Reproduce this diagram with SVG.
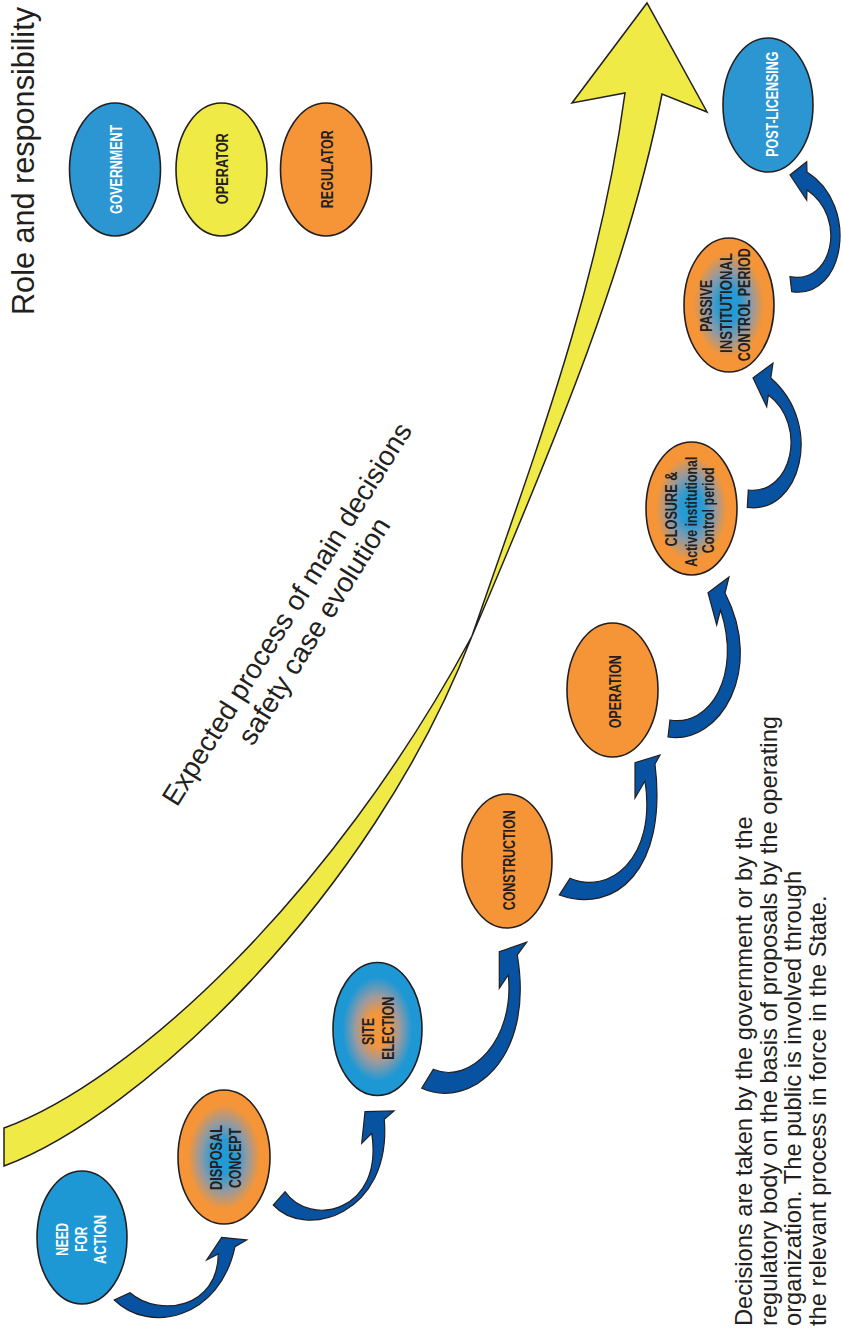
<svg xmlns="http://www.w3.org/2000/svg" width="842" height="1329" viewBox="0 0 842 1329">
<defs>
<style>
.n ellipse{stroke:#231F20;stroke-width:1.6}
.lbl{font-family:"Liberation Sans",Arial,sans-serif;font-weight:bold;font-size:16px;text-anchor:middle}
.w{fill:#FFFFFF}
.d{fill:#231F20}
.arr{fill:#0752A1;stroke:#231F20;stroke-width:1.2;stroke-linejoin:miter}
.big{font-family:"Liberation Sans",Arial,sans-serif;fill:#231F20}
</style>
<radialGradient id="gOB" cx="50%" cy="50%" r="50%">
<stop offset="0" stop-color="#1D9AD6"/>
<stop offset="0.25" stop-color="#2A9AD3"/>
<stop offset="0.5" stop-color="#8E9AA6"/>
<stop offset="0.78" stop-color="#F59538"/>
<stop offset="1" stop-color="#F59538"/>
</radialGradient>
<radialGradient id="gBO" cx="50%" cy="50%" r="50%">
<stop offset="0" stop-color="#F59538"/>
<stop offset="0.25" stop-color="#F2963D"/>
<stop offset="0.5" stop-color="#9C9AA0"/>
<stop offset="0.78" stop-color="#1E98D5"/>
<stop offset="1" stop-color="#1E98D5"/>
</radialGradient>
</defs>
<rect width="842" height="1329" fill="#FFFFFF"/>

<text class="big" font-size="31" textLength="308" lengthAdjust="spacingAndGlyphs" transform="translate(34,315) rotate(-90)">Role and responsibility</text>

<g id="yellow-arrow" fill="#F0EA46" stroke="#231F20" stroke-width="1.5" stroke-linejoin="miter">
<path d="M4,1128 C130,1082 330,900 472,636 C370,900 140,1115 4,1166 Z"/>
<path d="M472,636 C560,430 630,260 662,94 L707,112 L647,3 L572,103 L625,93 C600,280 540,440 472,636 Z"/>
</g>

<g id="title-text" class="big" font-size="28" text-anchor="middle">
<text transform="translate(295,619) rotate(-58)" textLength="445" lengthAdjust="spacingAndGlyphs">Expected process of main decisions</text>
<text transform="translate(322,636) rotate(-58)">safety case evolution</text>
</g>

<g id="legend-government" class="n"><ellipse cx="115" cy="169.5" rx="45.5" ry="66.5" fill="#2C96D2"/>
<text class="lbl w" textLength="89" lengthAdjust="spacingAndGlyphs" transform="translate(122,169.5) rotate(-90)">GOVERNMENT</text></g>
<g id="legend-operator" class="n"><ellipse cx="221.5" cy="169.5" rx="45.5" ry="66.5" fill="#F0EA46"/>
<text class="lbl d" textLength="71" lengthAdjust="spacingAndGlyphs" transform="translate(228.3,168.7) rotate(-90)">OPERATOR</text></g>
<g id="legend-regulator" class="n"><ellipse cx="326" cy="169.5" rx="45.5" ry="66.5" fill="#F59538"/>
<text class="lbl d" textLength="78" lengthAdjust="spacingAndGlyphs" transform="translate(332.7,169.2) rotate(-90)">REGULATOR</text></g>

<g id="connectors">
<path class="arr" d="M114.3,1300 C150,1335 220,1318 235,1246.7 L246.7,1240 L221.7,1237.3 L206.7,1260 L218.3,1254 C218,1308 160,1318 130,1292.7 Z"/>
<path class="arr" d="M273.3,1205 C305,1240 392,1215 384.3,1119.3 L394,1111 L365,1111.7 L361.7,1143.3 L371.7,1133.3 C384,1212 310,1228 285,1191.7 Z"/>
<path class="arr" d="M421.7,1088.3 C470,1110 535,1060 517.3,955 L526.7,942.3 L499.3,951.7 L499.3,988.3 L508.3,975 C515,1040 470,1085 433.3,1069.3 Z"/>
<path class="arr" d="M559.3,895 C615,915 668,870 655,764 L660,755 L635,762.7 L635,798 L645,781 C657,860 608,895 570,878.3 Z"/>
<path class="arr" d="M668,737 C720,745 765,670 725,593 L729,577 L708,592.7 L716.7,625 L720.5,610 C742,675 710,727 670,720 Z"/>
<path class="arr" d="M747.3,507.3 C800,515 825,425 770.8,378 L773,363 L753,378 L766.7,406.7 L768.4,395 C808,425 792,495 748.3,490 Z"/>
<path class="arr" d="M791.7,291.7 C845,300 860,205 807,172 L806.7,161.7 L790,175 L806.7,200 L807,190 C848,218 832,285 790,276.7 Z"/>
</g>

<g id="node-need" class="n"><ellipse cx="82" cy="1237.5" rx="45" ry="66.5" fill="#1E98D5"/>
<text class="lbl w" textLength="33" lengthAdjust="spacingAndGlyphs" transform="translate(68.3,1239.3) rotate(-90)">NEED</text>
<text class="lbl w" textLength="25" lengthAdjust="spacingAndGlyphs" transform="translate(87.3,1239.2) rotate(-90)">FOR</text>
<text class="lbl w" textLength="49" lengthAdjust="spacingAndGlyphs" transform="translate(106,1239.5) rotate(-90)">ACTION</text></g>

<g id="node-disposal" class="n"><ellipse cx="224" cy="1157" rx="46" ry="67" fill="url(#gOB)"/>
<text class="lbl d" textLength="65" lengthAdjust="spacingAndGlyphs" transform="translate(221.7,1157.5) rotate(-90)">DISPOSAL</text>
<text class="lbl d" textLength="60" lengthAdjust="spacingAndGlyphs" transform="translate(241,1158) rotate(-90)">CONCEPT</text></g>

<g id="node-site" class="n"><ellipse cx="377.5" cy="1029" rx="44.5" ry="66.5" fill="url(#gBO)"/>
<text class="lbl d" textLength="27" lengthAdjust="spacingAndGlyphs" transform="translate(374.3,1031.5) rotate(-90)">SITE</text>
<text class="lbl d" textLength="63" lengthAdjust="spacingAndGlyphs" transform="translate(394,1028.3) rotate(-90)">ELECTION</text></g>

<g id="node-construction" class="n"><ellipse cx="507" cy="861" rx="45" ry="67" fill="#F59538"/>
<text class="lbl d" textLength="100" lengthAdjust="spacingAndGlyphs" transform="translate(515,860.3) rotate(-90)">CONSTRUCTION</text></g>

<g id="node-operation" class="n"><ellipse cx="612.5" cy="690" rx="45.5" ry="67" fill="#F59538"/>
<text class="lbl d" textLength="73" lengthAdjust="spacingAndGlyphs" transform="translate(621,691.7) rotate(-90)">OPERATION</text></g>

<g id="node-closure" class="n"><ellipse cx="691.5" cy="508.5" rx="45.5" ry="66.5" fill="url(#gOB)"/>
<text class="lbl d" textLength="75" lengthAdjust="spacingAndGlyphs" transform="translate(676.7,509) rotate(-90)">CLOSURE &amp;</text>
<text class="lbl d" textLength="110" lengthAdjust="spacingAndGlyphs" transform="translate(696.5,511.7) rotate(-90)">Active institutional</text>
<text class="lbl d" textLength="86" lengthAdjust="spacingAndGlyphs" transform="translate(714,510.3) rotate(-90)">Control period</text></g>

<g id="node-passive" class="n"><ellipse cx="729" cy="305" rx="45" ry="67" fill="url(#gOB)"/>
<text class="lbl d" textLength="52" lengthAdjust="spacingAndGlyphs" transform="translate(712.3,305.8) rotate(-90)">PASSIVE</text>
<text class="lbl d" textLength="100" lengthAdjust="spacingAndGlyphs" transform="translate(731.7,303) rotate(-90)">INSTITUTIONAL</text>
<text class="lbl d" textLength="113" lengthAdjust="spacingAndGlyphs" transform="translate(750,304.8) rotate(-90)">CONTROL PERIOD</text></g>

<g id="node-post" class="n"><ellipse cx="768" cy="105" rx="45" ry="67" fill="#2C96D2"/>
<text class="lbl w" textLength="105" lengthAdjust="spacingAndGlyphs" transform="translate(777.7,104.2) rotate(-90)">POST-LICENSING</text></g>

<g id="note" class="big" font-size="23.7">
<text transform="translate(752,1326) rotate(-90)">Decisions are taken by the government or by the</text>
<text transform="translate(776.5,1326) rotate(-90)" textLength="610" lengthAdjust="spacingAndGlyphs">regulatory body on the basis of proposals by the operating</text>
<text transform="translate(801,1326) rotate(-90)">organization. The public is involved through</text>
<text transform="translate(825.5,1326) rotate(-90)">the relevant process in force in the State.</text>
</g>
</svg>
